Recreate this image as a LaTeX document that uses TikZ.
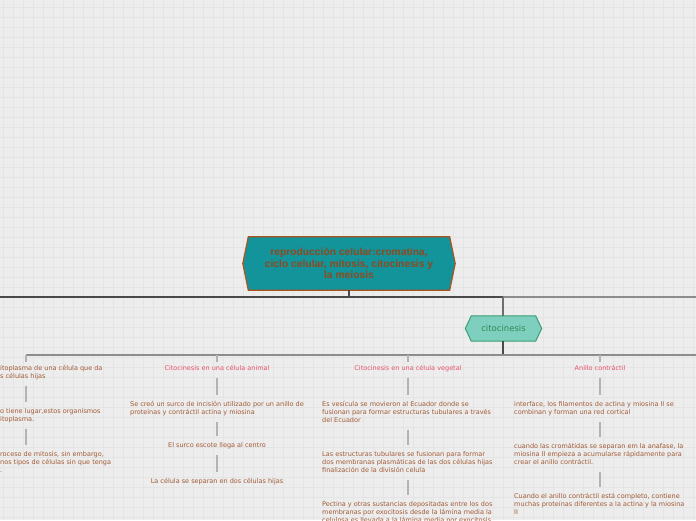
\documentclass[tikz,border=0pt]{standalone}
\usepackage{fontspec}
\setmainfont{DejaVu Sans}
\newfontfamily\titlefont{Liberation Sans}
\usetikzlibrary{calc}
\definecolor{bgc}{HTML}{EDEDED}
\definecolor{gridc}{HTML}{E4E4E4}
\definecolor{mainfill}{HTML}{13939A}
\definecolor{mainborder}{HTML}{A8541F}
\definecolor{maintext}{HTML}{8E4A1E}
\definecolor{citofill}{HTML}{7ECFBD}
\definecolor{citoborder}{HTML}{3A9F74}
\definecolor{citotext}{HTML}{2E8B57}
\definecolor{ttlc}{HTML}{E8526A}
\definecolor{txtc}{HTML}{A25A35}
\definecolor{darkline}{HTML}{4A4A4A}
\definecolor{midline}{HTML}{8C8C8C}
\definecolor{connc}{HTML}{B3B3B3}
\newcommand\mylines[1]{\begin{tabular}[t]{@{}l@{}}#1\end{tabular}}
\pgfdeclarelayer{gridlayer}
\pgfdeclarelayer{bglayer}
\pgfsetlayers{gridlayer,bglayer,main}
\tikzset{
  txt/.style={font=\fontsize{6.5}{8}\selectfont, text=txtc, inner xsep=1pt, inner ysep=5pt},
  ttl/.style={txt, text=ttlc},
  conn/.style={draw=connc, line width=1.8pt},
  tickline/.style={conn, shorten >=-2.5pt},
  trunk/.style={draw=darkline, line width=2.2pt},
}
\begin{document}
\begin{tikzpicture}[x=1pt,y=-1pt]
\useasboundingbox (0,0) rectangle (696,520);
\clip (0,0) rectangle (696,520);
\begin{pgfonlayer}{gridlayer}
  \fill[bgc] (0,0) rectangle (696,520);
  \foreach \gx in {3,13,...,693} \draw[gridc, line width=0.7pt] (\gx,0) -- (\gx,520);
  \foreach \gy in {7,17,...,517} \draw[gridc, line width=0.7pt] (0,\gy) -- (696,\gy);
\end{pgfonlayer}

% main node
\node[inner sep=0pt, minimum width=212pt, minimum height=53pt, align=center,
      font=\titlefont\bfseries\fontsize{10.3}{11.7}\selectfont, text=maintext]
  (main) at (349,263.5) {reproducción celular:cromatina,\\ciclo celular, mitosis, citocinesis y\\la meiosis};
\node[inner sep=0pt, minimum width=76pt, minimum height=25pt,
      font=\fontsize{8.5}{10}\selectfont, text=citotext]
  (cito) at (503.5,328.5) {citocinesis};
\begin{pgfonlayer}{bglayer}
  \draw[fill=mainfill, draw=mainborder, line width=1.2pt]
    (main.west) -- ([xshift=5.5pt]main.north west) -- ([xshift=-5.5pt]main.north east)
    -- (main.east) -- ([xshift=-5.5pt]main.south east) -- ([xshift=5.5pt]main.south west) -- cycle;
  \draw[fill=citofill, draw=citoborder, line width=1pt]
    (cito.west) -- ([xshift=6pt]cito.north west) -- ([xshift=-6pt]cito.north east)
    -- (cito.east) -- ([xshift=-6pt]cito.south east) -- ([xshift=6pt]cito.south west) -- cycle;
\end{pgfonlayer}

% top trunk
\coordinate (Lend) at (-3,297);
\coordinate (Rend) at (699,297);
\coordinate (jm) at (349,297);
\coordinate (jc) at (503,297);
\draw[trunk] (Lend) -- (jc);
\draw[draw=midline, line width=2pt] (jc) -- (Rend);
\draw[trunk] (main.south) -- (jm);
\draw[draw=darkline!80, line width=2pt] (jc) -- (cito.north -| jc);
\coordinate (jb) at (503,355);
\draw[trunk, line width=2pt] (cito.south -| jc) -- (jb);

% column coordinates
\coordinate (c1) at (26,355);
\coordinate (c2) at (217,355);
\coordinate (c3) at (408,355);
\coordinate (c4) at (600,355);
\coordinate (Hend) at (699,355);
\draw[draw=midline, line width=1.6pt] (c1) -- (Hend);

% column 1
\node[txt, anchor=base west] (a1) at (-1,370) {\mylines{itoplasma de una célula que da\\s células hijas}};
\node[txt, anchor=base west] (a2) at (-1,413) {\mylines{o tiene lugar,estos organismos\\itoplasma.}};
\node[txt, anchor=base west] (a3) at (-1,456) {\mylines{roceso de mitosis, sin embargo,\\nos tipos de células sin que tenga\\.}};
\draw[tickline] (c1) -- (a1.north -| c1);
\draw[conn] (a1.south -| c1) -- (a2.north -| c1);
\draw[conn] (a2.south -| c1) -- (a3.north -| c1);

% column 2
\node[ttl, anchor=base] (b0) at (217,370) {\mylines{Citocinesis en una célula animal}};
\node[txt, anchor=base west] (b1) at (129,406) {\mylines{Se creó un surco de incisión utilizado por un anillo de\\proteínas y contráctil actina y miosina}};
\node[txt, anchor=base] (b2) at (217,447) {\mylines{El surco escote llega al centro}};
\node[txt, anchor=base] (b3) at (217,483) {\mylines{La célula se separan en dos células hijas}};
\draw[tickline] (c2) -- (b0.north -| c2);
\draw[conn] (b0.south -| c2) -- (b1.north -| c2);
\draw[conn] (b1.south -| c2) -- (b2.north -| c2);
\draw[conn] (b2.south -| c2) -- (b3.north -| c2);

% column 3
\node[ttl, anchor=base] (d0) at (408,370) {\mylines{Citocinesis en una célula vegetal}};
\node[txt, anchor=base west] (d1) at (321,406) {\mylines{Es vesícula se movieron al Ecuador donde se\\fusionan para formar estructuras tubulares a través\\del Ecuador}};
\node[txt, anchor=base west] (d2) at (321,456) {\mylines{Las estructuras tubulares se fusionan para formar\\dos membranas plasmáticas de las dos células hijas\\finalización de la división celula}};
\node[txt, anchor=base west] (d3) at (321,506) {\mylines{Pectina y otras sustancias depositadas entre los dos\\membranas por exocitosis desde la lámina media la\\celulosa es llevada a la lámina media por exocitosis}};
\draw[tickline] (c3) -- (d0.north -| c3);
\draw[conn] (d0.south -| c3) -- (d1.north -| c3);
\draw[conn] (d1.south -| c3) -- (d2.north -| c3);
\draw[conn] (d2.south -| c3) -- (d3.north -| c3);

% column 4
\node[ttl, anchor=base] (e0) at (600,370) {\mylines{Anillo contráctil}};
\node[txt, anchor=base west] (e1) at (513,406) {\mylines{interface, los filamentos de actina y miosina II se\\combinan y forman una red cortical}};
\node[txt, anchor=base west] (e2) at (513,448) {\mylines{cuando las cromátidas se separan em la anafase, la\\miosina II empieza a acumularse rápidamente para\\crear el anillo contráctil.}};
\node[txt, anchor=base west] (e3) at (513,498) {\mylines{Cuando el anillo contráctil está completo, contiene\\muchas proteínas diferentes a la actina y la miosina\\II}};
\draw[tickline] (c4) -- (e0.north -| c4);
\draw[conn] (e0.south -| c4) -- (e1.north -| c4);
\draw[conn] (e1.south -| c4) -- (e2.north -| c4);
\draw[conn] (e2.south -| c4) -- (e3.north -| c4);
\end{tikzpicture}
\end{document}
